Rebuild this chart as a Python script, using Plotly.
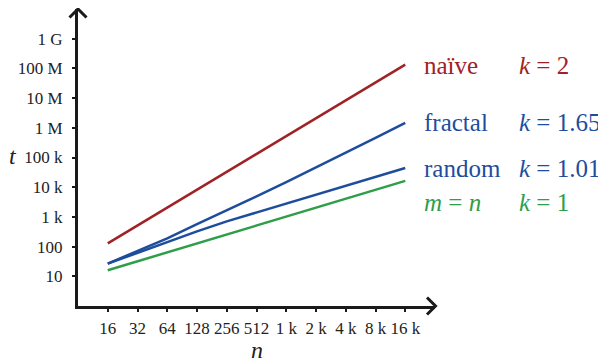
import plotly.graph_objects as go

# ---- data ----
n_vals = [16, 32, 64, 128, 256, 512, 1024, 2048, 4096, 8192, 16384]
n_labels = ["16", "32", "64", "128", "256", "512", "1 k", "2 k", "4 k", "8 k", "16 k"]
t_naive = [128, 512, 2048, 8192, 32768, 131072, 524288, 2097152, 8388608, 33554432, 134217728]
t_fractal = [26.7, 70.8, 190.5, 575, 1660, 4900, 14800, 45700, 141000, 457000, 1470000]
t_random = [26.7, 61.7, 141, 324, 708, 1413, 2884, 5888, 11750, 22900, 44500]
t_mn = [16, 32, 64, 128, 256, 512, 1024, 2048, 4096, 8192, 16384]
y_tickvals = [10, 100, 1e3, 1e4, 1e5, 1e6, 1e7, 1e8, 1e9]
y_ticklabels = ["10", "100", "1 k", "10 k", "100 k", "1 M", "10 M", "100 M", "1 G"]
series_names = ["naïve", "fractal", "random", "<i>m</i> = <i>n</i>"]
series_k = ["2", "1.65", "1.01", "1"]

RED = "#A02226"
BLUE = "#1E4D9E"
GREEN = "#2E9E49"
colors = [RED, BLUE, BLUE, GREEN]

# page body has an 8px default margin, so the figure is drawn 8px smaller/shifted
OFF = 8
W, H = 606 - OFF, 363 - OFF
L, R, T, B = 78 - OFF, 171, 9 - OFF, 57
PW, PH = W - L - R, H - T - B


def px(x):
    return (x - OFF - L) / PW


def py(y):
    return (H - B - (y - OFF)) / PH


SERIF = "Liberation Serif, Times New Roman, serif"
INK = "#1a1a1a"

fig = go.Figure()
for name, ys, c in zip(series_names, [t_naive, t_fractal, t_random, t_mn], colors):
    fig.add_trace(go.Scatter(x=n_vals, y=ys, mode="lines", name=name,
                             line=dict(color=c, width=2.5), showlegend=False))

fig.update_layout(
    width=W, height=H,
    margin=dict(l=L, r=R, t=T, b=B, pad=0),
    paper_bgcolor="white", plot_bgcolor="white",
    font=dict(family=SERIF, color="#222"),
    xaxis=dict(type="log", range=[0.90309, 4.51545], showgrid=False, zeroline=False,
               showline=True, linecolor=INK, linewidth=3,
               tickvals=n_vals, ticktext=n_labels, ticks="outside", ticklen=3,
               tickwidth=2, tickcolor=INK, tickfont=dict(size=17, family=SERIF, color="#222"),
               ticklabelstandoff=2),
    yaxis=dict(type="log", range=[0, 10], showgrid=False, zeroline=False,
               showline=True, linecolor=INK, linewidth=3,
               tickvals=y_tickvals, ticktext=y_ticklabels, ticks="outside", ticklen=3,
               tickwidth=2, tickcolor=INK, tickfont=dict(size=17, family=SERIF, color="#222"),
               ticklabelstandoff=6),
)

# arrowheads
fig.add_shape(type="path", xref="paper", yref="paper",
              path=f"M {px(427)},{py(297.5)} L {px(435.5)},{py(306)} L {px(427)},{py(314.5)}",
              line=dict(color=INK, width=3))
fig.add_shape(type="path", xref="paper", yref="paper",
              path=f"M {px(69.5)},{py(17.5)} L {px(78)},{py(9)} L {px(86.5)},{py(17.5)}",
              line=dict(color=INK, width=3))

# axis titles
fig.add_annotation(text="<i>t</i>", xref="paper", yref="paper", x=px(13), y=py(156),
                   xanchor="center", yanchor="middle",
                   showarrow=False, font=dict(size=24, family=SERIF, color="#222"))
fig.add_annotation(text="<i>n</i>", xref="paper", yref="paper", x=px(257), y=py(350),
                   xanchor="center", yanchor="middle",
                   showarrow=False, font=dict(size=24, family=SERIF, color="#222"))

# series labels
rows_y = [65, 122, 168, 202]
for name, k, c, yy in zip(series_names, series_k, colors, rows_y):
    fig.add_annotation(text=name, xref="paper", yref="paper", x=px(422), y=py(yy),
                       xanchor="left", yanchor="middle", showarrow=False,
                       font=dict(size=25, family=SERIF, color=c))
    fig.add_annotation(text=f"<i>k</i> = {k}", xref="paper", yref="paper", x=px(517), y=py(yy),
                       xanchor="left", yanchor="middle", showarrow=False,
                       font=dict(size=25, family=SERIF, color=c))

fig.write_html("out.html")
